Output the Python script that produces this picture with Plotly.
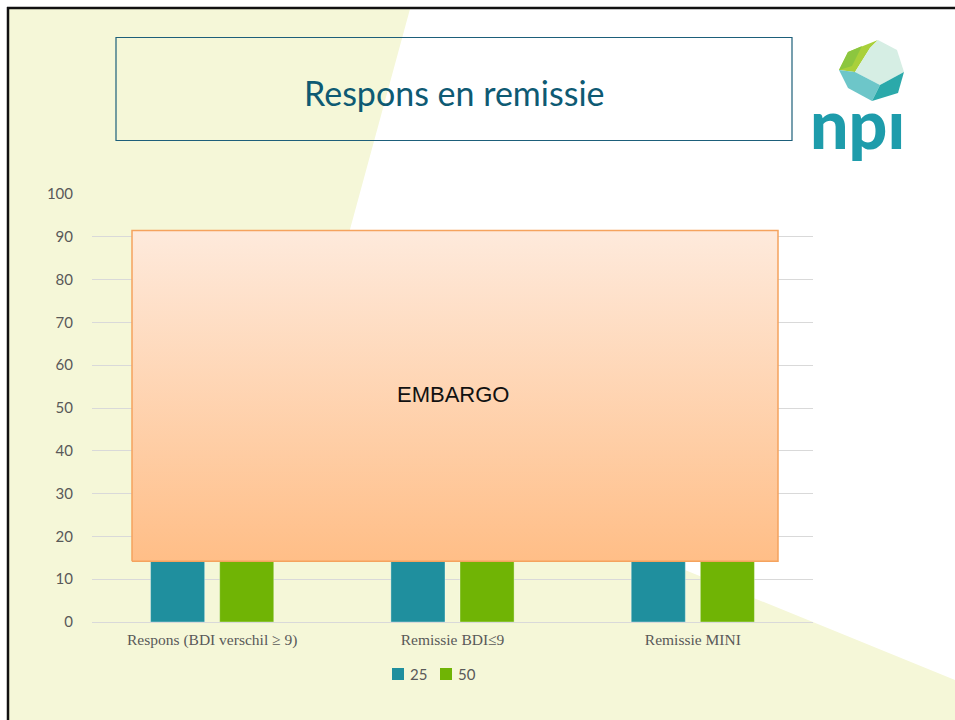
import plotly.graph_objects as go

# ---------------- data ----------------
categories = ["Respons (BDI verschil ≥ 9)", "Remissie BDI≤9", "Remissie MINI"]
series_names = ["25", "50"]
values_25 = [38, 30, 34]   # hidden behind embargo box (estimated)
values_50 = [52, 44, 48]
y_ticks = [0, 10, 20, 30, 40, 50, 60, 70, 80, 90, 100]
series_colors = ["#1F8F9E", "#70B405"]

title_text = "Respons en remissie"
embargo_text = "EMBARGO"

# ---------------- layout geometry (pixels) ----------------
W_FIG, H_FIG = 955, 720
L, R, T, B = 92, 813, 194, 622
PW, PH = R - L, B - T


def px(x):
    return (x - L) / PW


def py(y):
    return (B - y) / PH


def path(points):
    s = "M " + " L ".join(f"{px(x):.5f},{py(y):.5f}" for x, y in points) + " Z"
    return s


fig = go.Figure()

for name, vals, col in zip(series_names, [values_25, values_50], series_colors):
    fig.add_trace(go.Bar(
        x=categories, y=vals, name=name,
        marker=dict(color=col, line=dict(color="rgba(255,255,255,0.35)", width=1)),
        showlegend=False, hoverinfo="skip",
    ))

# embargo box (overlay axis in pixel units horizontally, data units vertically)
bx0, bx1, by0, by1 = 132, 778, 14.2, 91.5
fig.add_trace(go.Scatter(
    x=[bx0, bx1, bx1, bx0, bx0], y=[by0, by0, by1, by1, by0],
    xaxis="x2", yaxis="y", mode="lines", fill="toself",
    fillgradient=dict(type="vertical",
                      colorscale=[[0, "#FFBE87"], [1, "#FEEADC"]],
                      start=by0, stop=by1),
    line=dict(color="#F5A35E", width=1.5),
    showlegend=False, hoverinfo="skip",
))

shapes = []
# yellow background region
shapes.append(dict(type="path", xref="paper", yref="paper", layer="below",
                   path=path([(9, 9), (410, 9), (300, 413), (955, 680), (955, 720), (9, 720)]),
                   fillcolor="#F5F7D8", line=dict(width=0)))
# slide black border (top & left)
shapes.append(dict(type="line", xref="paper", yref="paper", layer="above",
                   x0=px(7), x1=px(955), y0=py(8), y1=py(8),
                   line=dict(color="#111111", width=2.5)))
shapes.append(dict(type="line", xref="paper", yref="paper", layer="above",
                   x0=px(8), x1=px(8), y0=py(7), y1=py(720),
                   line=dict(color="#111111", width=2.5)))
# title box
shapes.append(dict(type="rect", xref="paper", yref="paper", layer="above",
                   x0=px(116), x1=px(792), y0=py(37.5), y1=py(140.5),
                   line=dict(color="#1D5F7A", width=1.2), fillcolor="rgba(0,0,0,0)"))

# manual legend squares
legend_sq = [(392, 668), (440, 668)]
for (lx, ly), col in zip(legend_sq, series_colors):
    shapes.append(dict(type="rect", xref="paper", yref="paper", layer="above",
                       x0=px(lx), x1=px(lx + 12), y0=py(ly), y1=py(ly + 12),
                       fillcolor=col, line=dict(width=0)))

# logo gem facets
gem = [
    ([(848, 52), (878, 40), (870, 48), (855, 72), (839, 70)], "#A9D03A"),
    ([(878, 40), (897, 50), (904, 72), (880, 85), (855, 72), (870, 48)], "#D6EEE4"),
    ([(839, 70), (855, 72), (880, 85), (872, 101), (848, 88)], "#6DC6C9"),
    ([(904, 72), (898, 93), (872, 101), (880, 85)], "#2BA9AA"),
    ([(848, 52), (862, 46), (852, 66), (839, 70)], "#8CC63F"),
]
for pts, col in gem:
    shapes.append(dict(type="path", xref="paper", yref="paper", layer="above",
                       path=path(pts), fillcolor=col, line=dict(width=0)))

annotations = [
    dict(text=title_text, xref="paper", yref="paper", x=px(454), y=py(92),
         showarrow=False, xanchor="center", yanchor="middle",
         font=dict(family="Lato", size=34, color="#0E5A73")),
    dict(text=embargo_text, xref="paper", yref="paper", x=px(453), y=py(394),
         showarrow=False, xanchor="center", yanchor="middle",
         font=dict(family="Liberation Sans", size=22, color="#111111")),
    dict(text="npı", xref="paper", yref="paper", x=px(857), y=py(123),
         showarrow=False, xanchor="center", yanchor="middle",
         font=dict(family="Lato", size=68, color="#1E9CAB", weight=900)),
]
for (lx, ly), name in zip(legend_sq, series_names):
    annotations.append(dict(text=name, xref="paper", yref="paper", x=px(lx + 16), y=py(ly + 6),
                            showarrow=False, xanchor="left", yanchor="middle",
                            font=dict(family="Lato", size=15, color="#595959")))

fig.update_layout(
    width=W_FIG, height=H_FIG, autosize=False,
    margin=dict(l=L, r=W_FIG - R, t=T, b=H_FIG - B, pad=0),
    paper_bgcolor="#FFFFFF", plot_bgcolor="rgba(0,0,0,0)",
    barmode="group", bargap=0.425, bargroupgap=0.217,
    showlegend=False,
    xaxis=dict(showgrid=False, showline=False, zeroline=False, ticks="",
               tickfont=dict(family="Liberation Serif", size=15.5, color="#595959"),
               ticklabelstandoff=6),
    xaxis2=dict(overlaying="x", range=[L, R], visible=False),
    yaxis=dict(range=[0, 100], tickvals=y_ticks, showgrid=True, gridcolor="#D9D9D9",
               gridwidth=1, zeroline=True, zerolinecolor="#D9D9D9", zerolinewidth=1,
               showline=False, ticks="",
               tickfont=dict(family="Lato", size=15, color="#595959"),
               ticklabelstandoff=18),
    shapes=shapes, annotations=annotations,
)

fig.write_html("out.html", config={"displayModeBar": False},
               post_script="document.body.style.margin='0px';document.body.style.padding='0px';")
